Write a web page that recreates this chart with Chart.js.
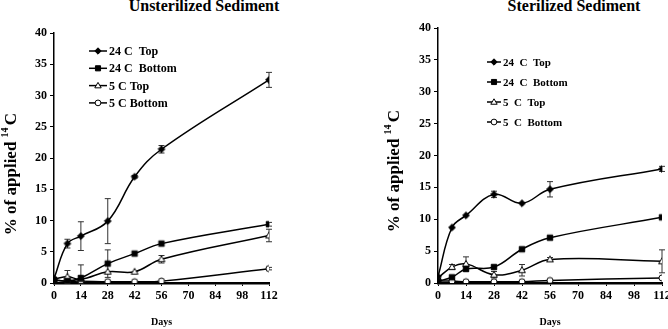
<!DOCTYPE html>
<html>
<head>
<meta charset="utf-8">
<script src="https://cdn.jsdelivr.net/npm/chart.js@4.4.0/dist/chart.umd.min.js"></script>
<style>
  body { margin: 0; background: #fff; width: 668px; height: 329px; position: relative; overflow: hidden; font-family: "Liberation Serif", "Times New Roman", serif; }
  canvas { position: absolute; top: 0; }
  .ttl { position: absolute; top: -3px; font-weight: bold; font-size: 16px; white-space: nowrap; transform: translateX(-50%); color: #000; }
</style>
</head>
<body>
<div class="ttl" style="left:204px">Unsterilized Sediment</div>
<div class="ttl" style="left:574px">Sterilized Sediment</div>
<canvas id="left" width="334" height="329" style="left:0"></canvas>
<canvas id="right" width="334" height="329" style="left:334px"></canvas>
<script>
// sampling days
const days = [0, 7, 14, 28, 42, 56, 112];
const xTicks = [0, 14, 28, 42, 56, 70, 84, 98, 112];

// unsterilized sediment
const uNames = ["24 C  Top", "24 C  Bottom", "5 C Top", "5 C Bottom"];
const uTop24 = [0.7, 6.3, 7.5, 9.9, 17.0, 21.4, 32.5];
const uTop24Err = [0, 0.7, 2.3, 3.6, 0.2, 0.6, 1.2];
const uBot24 = [0.5, 0.3, 0.8, 3.1, 4.7, 6.3, 9.4];
const uBot24Err = [0, 0, 0, 2.2, 0, 0, 0.3];
const uTop5 = [0.6, 1.0, 0.6, 1.8, 1.8, 3.8, 7.6];
const uTop5Err = [0, 1.0, 2.3, 0, 0, 0.6, 1.0];
const uBot5 = [0.5, 0.3, 0.3, 0.2, 0.2, 0.3, 2.3];
const uBot5Err = [0, 0, 0, 0, 0, 0, 0.2];

// sterilized sediment
const sNames = ["24  C  Top", "24  C  Bottom", "5  C  Top", "5  C  Bottom"];
const sTop24 = [1.0, 8.7, 10.6, 13.9, 12.5, 14.7, 17.9];
const sTop24Err = [0, 0, 0, 0.5, 0, 1.2, 0.4];
const sBot24 = [0.3, 0.9, 2.2, 2.5, 5.3, 7.1, 10.3];
const sBot24Err = [0, 0, 0, 0, 0, 0, 0];
const sTop5 = [0.8, 2.5, 3.0, 1.3, 2.0, 3.7, 3.4];
const sTop5Err = [0, 0.4, 1.1, 0.5, 0.9, 0.3, 1.8];
const sBot5 = [0.3, 0.3, 0.2, 0.2, 0.2, 0.4, 0.8];
const sBot5Err = [0, 0, 0, 0, 0, 0, 0];

const serif = '"Liberation Serif", "Times New Roman", serif';
const styles = ["rectRot", "rect", "triangle", "circle"];
const fills = ["#000", "#000", "#fff", "#fff"];

function drawMarker(ctx, style, x, y, r, fill) {
  ctx.save();
  ctx.fillStyle = fill;
  ctx.strokeStyle = "#000";
  ctx.lineWidth = 1;
  ctx.beginPath();
  if (style == "rectRot") {
    ctx.moveTo(x, y - r); ctx.lineTo(x + r, y); ctx.lineTo(x, y + r); ctx.lineTo(x - r, y);
  } else if (style == "rect") {
    ctx.rect(x - r * 0.8, y - r * 0.8, r * 1.6, r * 1.6);
  } else if (style == "triangle") {
    ctx.moveTo(x, y - r); ctx.lineTo(x + r, y + r * 0.7); ctx.lineTo(x - r, y + r * 0.7);
  } else {
    ctx.arc(x, y, r * 0.9, 0, Math.PI * 2);
  }
  ctx.closePath();
  ctx.fill();
  ctx.stroke();
  ctx.restore();
}

// error bars drawn through the scales
const errorBars = {
  id: "errorBars",
  beforeDatasetsDraw(chart) {
    const ctx = chart.ctx;
    const xs = chart.scales.x, ys = chart.scales.y;
    ctx.save();
    ctx.strokeStyle = "#333";
    ctx.lineWidth = 1;
    chart.data.datasets.forEach((ds) => {
      ds.errors.forEach((e, j) => {
        if (!e) return;
        const v = ds.data[j].y;
        const x = xs.getPixelForValue(ds.data[j].x);
        const y1 = ys.getPixelForValue(v + e);
        const y2 = ys.getPixelForValue(Math.max(0, v - e));
        ctx.beginPath();
        ctx.moveTo(x, y1); ctx.lineTo(x, y2);
        ctx.moveTo(x - 3, y1); ctx.lineTo(x + 3, y1);
        ctx.moveTo(x - 3, y2); ctx.lineTo(x + 3, y2);
        ctx.stroke();
      });
    });
    ctx.restore();
  }
};

// legend inside the plot
const insetLegend = {
  id: "insetLegend",
  afterDraw(chart, args, opts) {
    const ctx = chart.ctx;
    ctx.save();
    ctx.font = "bold " + opts.size + "px " + serif;
    ctx.textBaseline = "middle";
    ctx.fillStyle = "#000";
    chart.data.datasets.forEach((ds, i) => {
      const y = opts.y + i * opts.dy;
      ctx.strokeStyle = "#000";
      ctx.lineWidth = 1.5;
      ctx.beginPath();
      ctx.moveTo(opts.x, y); ctx.lineTo(opts.x + opts.len, y);
      ctx.stroke();
      drawMarker(ctx, styles[i], opts.x + opts.len / 2, y, 3.2, fills[i]);
      ctx.fillText(ds.label, opts.x + opts.len + 2, y + 1);
    });
    ctx.restore();
  }
};

// rotated y title with a real superscript
const yTitle = {
  id: "yTitle",
  afterDraw(chart, args, opts) {
    const ctx = chart.ctx;
    const main = "% of applied ";
    const sup = "14";
    const tail = " C";
    ctx.save();
    ctx.translate(opts.x, opts.y);
    ctx.rotate(-Math.PI / 2);
    ctx.fillStyle = "#000";
    ctx.textBaseline = "alphabetic";
    const big = "bold 17px " + serif, small = "bold 10px " + serif;
    ctx.font = big;
    const w1 = ctx.measureText(main).width, w3 = ctx.measureText(tail).width;
    ctx.font = small;
    const w2 = ctx.measureText(sup).width;
    let x = -(w1 + w2 + w3) / 2;
    ctx.font = big;
    ctx.fillText(main, x, 6);
    ctx.font = small;
    ctx.fillText(sup, x + w1, -2);
    ctx.font = big;
    ctx.fillText(tail, x + w1 + w2 - 2, 6);
    ctx.restore();
  }
};

// custom point styles so the chart markers match the legend ones
function markerCanvas(i) {
  const c = document.createElement("canvas");
  c.width = 10; c.height = 10;
  drawMarker(c.getContext("2d"), styles[i], 5, 5, 3.4, fills[i]);
  return c;
}

function makeChart(id, names, values, errors, pad, yWidth, legend, title) {
  const datasets = values.map((vals, i) => ({
    label: names[i],
    data: vals.map((v, j) => ({ x: days[j], y: v })),
    errors: errors[i],
    borderColor: "#000",
    borderWidth: 1.5,
    pointStyle: markerCanvas(i),
    pointRadius: 4,
    tension: 0.4,
    fill: false,
  }));
  const tickFont = { family: serif, size: 12, weight: "bold" };
  return new Chart(document.getElementById(id), {
    type: "line",
    data: { datasets: datasets },
    options: {
      responsive: false,
      animation: false,
      layout: { padding: pad },
      plugins: {
        legend: { display: false },
        tooltip: { enabled: false },
        insetLegend: legend,
        yTitle: title,
      },
      scales: {
        x: {
          type: "linear",
          min: 0,
          max: 112,
          afterBuildTicks: (s) => { s.ticks = xTicks.map((v) => ({ value: v })); },
          ticks: { font: tickFont, color: "#000", padding: 3, maxRotation: 0 },
          grid: { drawOnChartArea: false, tickLength: 3, color: "#000" },
          border: { color: "#000", width: 2.5 },
          title: { display: true, text: "Days", color: "#000", font: { family: serif, size: 10, weight: "bold" }, padding: { top: 0, bottom: 1 } },
          afterFit: (s) => { s.height = 46; s.paddingLeft = 0; s.paddingRight = 0; },
        },
        y: {
          min: 0,
          max: 40,
          ticks: { stepSize: 5, font: tickFont, color: "#000", padding: 3 },
          grid: { drawOnChartArea: false, tickLength: 4, color: "#000" },
          border: { color: "#000", width: 1.5 },
          afterFit: (s) => { s.width = yWidth; s.paddingTop = 0; s.paddingBottom = 0; },
        },
      },
    },
    plugins: [errorBars, insetLegend, yTitle],
  });
}

makeChart("left", uNames,
  [uTop24, uBot24, uTop5, uBot5],
  [uTop24Err, uBot24Err, uTop5Err, uBot5Err],
  { left: 0, right: 65, top: 33, bottom: 0 }, 54,
  { x: 89, y: 51, dy: 17.3, len: 18, size: 12 },
  { x: 10, y: 173 });

makeChart("right", sNames,
  [sTop24, sBot24, sTop5, sBot5],
  [sTop24Err, sBot24Err, sTop5Err, sBot5Err],
  { left: 48, right: 6, top: 28, bottom: 0 }, 56,
  { x: 153, y: 62, dy: 20, len: 14, size: 11 },
  { x: 59, y: 170 });
</script>
</body>
</html>
